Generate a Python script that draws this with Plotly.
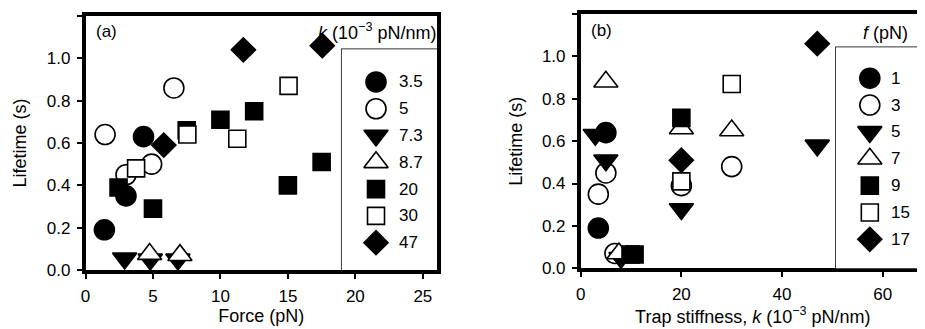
import plotly.graph_objects as go

# ---------------- data ----------------
# Panel (a): lifetime vs force, grouped by trap stiffness k (10^-3 pN/nm)
a_labels = ["3.5", "5", "7.3", "8.7", "20", "30", "47"]
a_force = [
    [1.4, 3.0, 4.3],
    [1.45, 3.0, 4.9, 6.55],
    [2.9, 4.8, 6.85],
    [4.75, 7.0],
    [2.45, 5.0, 7.5, 10.0, 12.5, 15.0, 17.5],
    [3.75, 7.55, 11.25, 15.05],
    [5.8, 11.7, 17.55],
]
a_life = [
    [0.19, 0.35, 0.63],
    [0.64, 0.45, 0.50, 0.86],
    [0.055, 0.05, 0.05],
    [0.075, 0.07],
    [0.39, 0.29, 0.66, 0.71, 0.75, 0.40, 0.51],
    [0.48, 0.64, 0.62, 0.87],
    [0.59, 1.04, 1.06],
]

# Panel (b): lifetime vs trap stiffness, grouped by force f (pN)
b_labels = ["1", "3", "5", "7", "9", "15", "17"]
b_stiff = [
    [3.5, 5.0],
    [3.5, 5.0, 6.8, 20.0, 30.0],
    [2.9, 5.0, 8.0, 20.0, 47.0],
    [5.0, 7.6, 20.0, 30.0],
    [9.9, 10.7, 20.0],
    [20.0, 30.0],
    [20.0, 47.0],
]
b_life = [
    [0.19, 0.64],
    [0.35, 0.45, 0.07, 0.39, 0.48],
    [0.63, 0.51, 0.05, 0.28, 0.58],
    [0.88, 0.07, 0.66, 0.65],
    [0.065, 0.065, 0.71],
    [0.41, 0.87],
    [0.51, 1.06],
]

y_ticks = [0.0, 0.2, 0.4, 0.6, 0.8, 1.0, 1.2]
a_xticks = [0, 5, 10, 15, 20, 25]
b_xticks = [0, 20, 40, 60]

# ---------------- styles ----------------
# (symbol, fill, size)
styles = [
    ("circle", "black", 20),
    ("circle", "white", 20),
    ("triangle-down", "black", 21),
    ("triangle-up", "white", 21),
    ("square", "black", 17),
    ("square", "white", 17),
    ("diamond", "black", 18.5),
]

# the page body has an 8 px margin, so the figure covers 8..925 x 8..329
OFF = 8
W, H = 925 - OFF, 329 - OFF
FONT = "Liberation Sans, Arial, sans-serif"


def px_x(p):
    return (p - OFF) / W


def px_y(p):
    return (329 - p) / H


fig = go.Figure()


def add_group(xs, ys, st, xa, ya, name):
    sym, fill, size = st
    fig.add_trace(go.Scatter(
        x=xs, y=ys, mode="markers", name=name, xaxis=xa, yaxis=ya,
        showlegend=False, cliponaxis=False,
        marker=dict(symbol=sym, color=fill, size=size,
                    line=dict(color="black", width=1.6)),
    ))


for i, lab in enumerate(a_labels):
    add_group(a_force[i], a_life[i], styles[i], "x", "y", lab)
for i, lab in enumerate(b_labels):
    add_group(b_stiff[i], b_life[i], styles[i], "x2", "y2", lab)

# ---- hand-built legends on hidden overlay axes ----
legend_specs = [
    # labels, xaxis, yaxis, marker x frac, text x frac
    (a_labels, "x3", "y3", 0.36, 0.58),
    (b_labels, "x4", "y4", 0.38, 0.60),
]
for labels, xa, ya, mx, tx in legend_specs:
    for i, lab in enumerate(labels):
        sym, fill, size = styles[i]
        fig.add_trace(go.Scatter(
            x=[mx], y=[i], mode="markers", xaxis=xa, yaxis=ya, showlegend=False,
            cliponaxis=False, hoverinfo="skip",
            marker=dict(symbol=sym, color=fill, size=size,
                        line=dict(color="black", width=1.6)),
        ))
        fig.add_annotation(x=tx, y=i, xref=xa, yref=ya, text=lab, showarrow=False,
                           xanchor="left", yanchor="middle",
                           font=dict(family=FONT, size=17, color="black"))
    fig.add_shape(type="rect", xref=xa + " domain", yref=ya + " domain",
                  x0=0, x1=1, y0=0, y1=1, line=dict(color="black", width=1.5),
                  fillcolor="rgba(0,0,0,0)", layer="below")

axis_common = dict(
    showline=True, linecolor="black", linewidth=3.5, ticks="outside",
    ticklen=5, tickwidth=2, tickcolor="black", showgrid=False, zeroline=False,
    tickfont=dict(family=FONT, size=17, color="black"), automargin=False,
    ticklabelstandoff=3,
)

a_dom_x = [px_x(85.5), px_x(437)]
a_dom_y = [px_y(270), px_y(16)]
b_dom_x = [px_x(580.7), 1.0]
b_dom_y = [px_y(268.3), px_y(14)]

fig.update_layout(
    width=W, height=H, margin=dict(l=0, r=0, t=0, b=0),
    paper_bgcolor="white", plot_bgcolor="white", showlegend=False,
    font=dict(family=FONT, size=17, color="black"),
    xaxis=dict(domain=a_dom_x, anchor="y", range=[0, 26.05], tickvals=a_xticks,
               mirror=True,
               title=dict(text="Force (pN)", font=dict(size=18), standoff=2),
               **axis_common),
    yaxis=dict(domain=a_dom_y, anchor="x", range=[0, 1.2], tickvals=y_ticks,
               tickformat=".1f", mirror=True,
               title=dict(text="Lifetime (s)", font=dict(size=18), standoff=16),
               **axis_common),
    xaxis2=dict(domain=b_dom_x, anchor="y2", range=[0, 68.4], tickvals=b_xticks,
                mirror=True,
                title=dict(text="Trap stiffness, <i>k</i> (10<sup>−3</sup> pN/nm)",
                           font=dict(size=18), standoff=2),
                **axis_common),
    yaxis2=dict(domain=b_dom_y, anchor="x2", range=[0, 1.2], tickvals=y_ticks,
                tickformat=".1f", mirror=False,
                title=dict(text="Lifetime (s)", font=dict(size=18), standoff=16),
                **axis_common),
    xaxis3=dict(domain=[px_x(341.7), px_x(437)], anchor="y3", range=[0, 1], visible=False),
    yaxis3=dict(domain=[px_y(270), px_y(49.3)], anchor="x3", range=[7.02, -1.22], visible=False),
    xaxis4=dict(domain=[px_x(836), 1.0], anchor="y4", range=[0, 1], visible=False),
    yaxis4=dict(domain=[px_y(268.3), px_y(47.3)], anchor="x4", range=[7.08, -1.15], visible=False),
)

# panel letters and legend titles
fig.add_annotation(x=px_x(94), y=px_y(31.5), xref="paper", yref="paper", text="(a)",
                   showarrow=False, xanchor="left", yanchor="middle",
                   font=dict(family=FONT, size=17))
fig.add_annotation(x=px_x(589), y=px_y(30), xref="paper", yref="paper", text="(b)",
                   showarrow=False, xanchor="left", yanchor="middle",
                   font=dict(family=FONT, size=17))
fig.add_annotation(x=px_x(438), y=px_y(31), xref="paper", yref="paper",
                   text="<i>k</i> (10<sup>−3</sup> pN/nm)",
                   showarrow=False, xanchor="right", yanchor="middle",
                   font=dict(family=FONT, size=18))
fig.add_annotation(x=px_x(885), y=px_y(33), xref="paper", yref="paper",
                   text="<i>f</i> (pN)",
                   showarrow=False, xanchor="center", yanchor="middle",
                   font=dict(family=FONT, size=18))

fig.write_html("out.html")
